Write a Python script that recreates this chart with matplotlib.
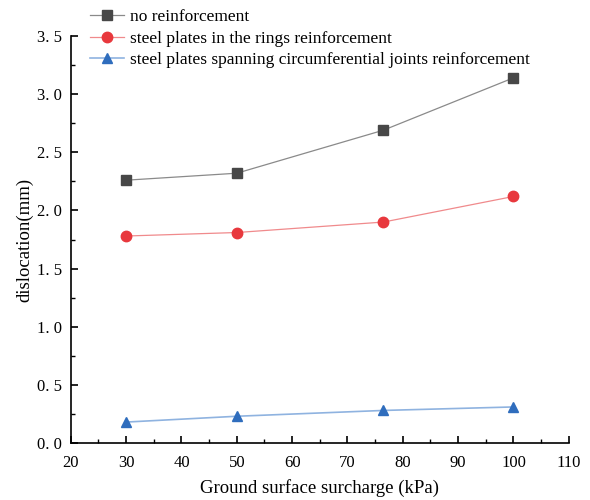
import matplotlib
matplotlib.use('Agg')
import matplotlib.pyplot as plt
from matplotlib.ticker import MultipleLocator

# surcharge levels (kPa) and dislocation (mm) for each reinforcement scheme
surcharge = [30, 50, 76.5, 100]
no_reinf = [2.26, 2.32, 2.69, 3.14]
ring_plates = [1.78, 1.81, 1.90, 2.12]
joint_plates = [0.18, 0.23, 0.28, 0.31]

labels = [
    "no reinforcement",
    "steel plates in the rings reinforcement",
    "steel plates spanning circumferential joints reinforcement",
]

plt.rcParams['font.family'] = ['Liberation Serif', 'DejaVu Serif']

fig = plt.figure(figsize=(5.9, 5.0), dpi=100)
ax = fig.add_axes([0.120, 0.114, 0.844, 0.814])

ax.plot(surcharge, no_reinf, color="#8a8a8a", linewidth=0.9,
        marker="s", markersize=6.5, markerfacecolor="#474747",
        markeredgecolor="#474747", label=labels[0])
ax.plot(surcharge, ring_plates, color="#f08a8c", linewidth=0.9,
        marker="o", markersize=7.5, markerfacecolor="#e8383d",
        markeredgecolor="#e8383d", label=labels[1])
ax.plot(surcharge, joint_plates, color="#8fb3e0", linewidth=1.2,
        marker="^", markersize=7.5, markerfacecolor="#2f6dbd",
        markeredgecolor="#2f6dbd", label=labels[2])

ax.set_xlim(20, 110)
ax.set_ylim(0, 3.5)
ax.xaxis.set_major_locator(MultipleLocator(10))
ax.xaxis.set_minor_locator(MultipleLocator(5))
ax.yaxis.set_major_locator(MultipleLocator(0.5))
ax.yaxis.set_minor_locator(MultipleLocator(0.25))

ax.spines['top'].set_visible(False)
ax.spines['right'].set_visible(False)
for s in ['left', 'bottom']:
    ax.spines[s].set_linewidth(1.2)

ax.tick_params(which='major', direction='in', length=5, width=1.2, labelsize=12)
ax.tick_params(which='minor', direction='in', length=3, width=1.0)
ax.tick_params(axis='x', which='major', pad=8.5)
ax.tick_params(axis='y', which='major', pad=6.5)
ax.yaxis.set_major_formatter(plt.FuncFormatter(lambda v, p: f"{v:.1f}".replace(".", ". ")))

ax.set_xlabel("Ground surface surcharge (kPa)", fontsize=13.5, labelpad=6)
ax.set_ylabel("dislocation(mm)", fontsize=13.5, labelpad=2)

fig.legend(loc="upper left", bbox_to_anchor=(0.1315, 1.006), frameon=False,
           fontsize=12.5, handlelength=2.0, handletextpad=0.3,
           labelspacing=0.3, borderpad=0.2)

fig.savefig("out.png", dpi=100)
